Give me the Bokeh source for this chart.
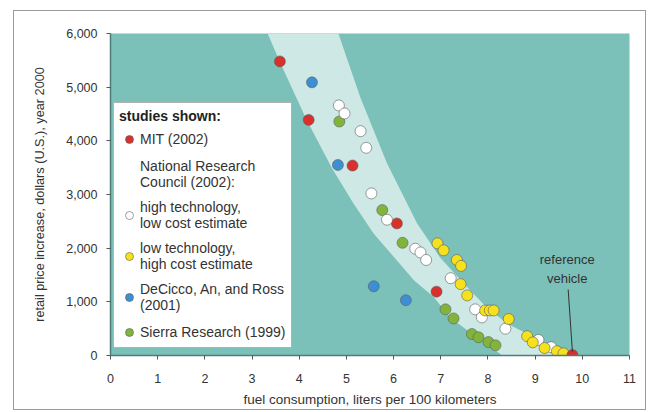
from bokeh.plotting import figure
from bokeh.models import Legend, LegendItem, Label, NumeralTickFormatter, FixedTicker
from bokeh.embed import file_html
from bokeh.resources import INLINE

# ---- data ----
mit_x = [3.59, 4.20, 5.13, 6.07, 6.91]
mit_y = [5480, 4390, 3540, 2460, 1190]

nrc_high_x = [4.84, 4.96, 5.30, 5.42, 5.53, 5.86, 6.46, 6.57, 6.69, 7.21, 7.73, 7.87, 8.37, 9.07, 9.34]
nrc_high_y = [4660, 4510, 4180, 3870, 3020, 2530, 1990, 1920, 1780, 1440, 860, 710, 500, 290, 155]

nrc_low_x = [6.93, 7.06, 7.34, 7.43, 7.42, 7.56, 7.94, 8.04, 8.12, 8.44, 8.83, 8.95, 9.20, 9.46, 9.60]
nrc_low_y = [2090, 1960, 1780, 1670, 1330, 1120, 840, 840, 840, 680, 360, 245, 140, 80, 40]

dec_x = [4.27, 4.82, 5.58, 6.26]
dec_y = [5090, 3550, 1290, 1030]

sierra_x = [4.85, 5.76, 6.19, 7.10, 7.27, 7.66, 7.80, 8.01, 8.16]
sierra_y = [4360, 2710, 2100, 860, 690, 400, 340, 250, 190]

ref_x = [9.79]
ref_y = [10]

band_lower_x = [3.33, 3.60, 4.15, 4.70, 5.15, 5.58, 6.07, 6.43, 6.85, 7.20, 7.56, 7.98, 8.30]
band_lower_y = [6000, 5450, 4400, 3480, 2830, 2270, 1770, 1400, 1090, 710, 470, 220, 0]
band_upper_x = [4.83, 5.30, 5.86, 6.50, 6.99, 7.56, 7.98, 8.40, 9.11, 9.68, 9.82]
band_upper_y = [6000, 4800, 3580, 2460, 1820, 1270, 890, 600, 280, 60, 0]

y_ticks = [0, 1000, 2000, 3000, 4000, 5000, 6000]
x_ticks = list(range(0, 12))

FONT = "Liberation Sans"
TEAL = "#7bc0b9"
BAND = "#cde8e5"

p = figure(width=633, height=400, x_range=(0, 11), y_range=(0, 6000),
           output_backend="svg", toolbar_location=None,
           min_border_left=96, min_border_right=18, min_border_top=22, min_border_bottom=56,
           margin=(10, 0, 0, 13))
p.styles = {"border": "1px solid #9a9a9a"}
p.background_fill_color = TEAL
p.border_fill_color = "white"
p.outline_line_color = None
p.xgrid.visible = False
p.ygrid.visible = False

# band
p.patch(band_lower_x + band_upper_x[::-1], band_lower_y + band_upper_y[::-1],
        fill_color=BAND, line_color=None)

kw = dict(size=11, line_color="#5f5f5f", line_alpha=0.6, line_width=1)
r_mit = p.scatter(mit_x, mit_y, fill_color="#d9302b", **kw)
r_dec = p.scatter(dec_x, dec_y, fill_color="#3b8fd2", **kw)
r_sierra = p.scatter(sierra_x, sierra_y, fill_color="#80b43c", **kw)
r_high = p.scatter(nrc_high_x, nrc_high_y, fill_color="white", **kw)
r_low = p.scatter(nrc_low_x, nrc_low_y, fill_color="#f6e11c", **kw)
p.scatter(ref_x, ref_y, fill_color="#d9302b", **kw)
r_dummy = p.scatter([], [], fill_alpha=0, line_alpha=0)

# reference vehicle annotation
p.segment(x0=[ref_x[0] - 0.09], y0=[1230], x1=ref_x, y1=[ref_y[0] + 60],
          line_color="#333333", line_width=1)
p.add_layout(Label(x=9.68, y=1290, text="reference\nvehicle", text_align="center",
                   text_baseline="bottom", text_font=FONT, text_font_size="13px",
                   text_color="#333333", text_line_height=1.3))

legend = Legend(items=[
    LegendItem(label="MIT (2002)", renderers=[r_mit]),
    LegendItem(label="National Research\nCouncil (2002):", renderers=[r_dummy]),
    LegendItem(label="high technology,\nlow cost estimate", renderers=[r_high]),
    LegendItem(label="low technology,\nhigh cost estimate", renderers=[r_low]),
    LegendItem(label="DeCicco, An, and Ross\n(2001)", renderers=[r_dec]),
    LegendItem(label="Sierra Research (1999)", renderers=[r_sierra]),
], location=(3, 7), title="studies shown:")
legend.title_text_font = FONT
legend.title_text_font_style = "bold"
legend.title_text_font_size = "14px"
legend.title_text_color = "#222222"
legend.title_standoff = 5
legend.label_text_font = FONT
legend.label_text_font_size = "14px"
legend.label_text_color = "#333333"
legend.label_text_line_height = 1.3
legend.label_height = 18
legend.border_line_color = "#666666"
legend.border_line_width = 1.5
legend.background_fill_alpha = 1
legend.padding = 5
legend.spacing = 9
legend.glyph_width = 20
legend.glyph_height = 20
legend.label_standoff = 1
legend.margin = 0
p.add_layout(legend)

# axes
p.yaxis.ticker = FixedTicker(ticks=y_ticks)
p.xaxis.ticker = FixedTicker(ticks=x_ticks)
p.yaxis.formatter = NumeralTickFormatter(format="0,0")
p.xaxis.axis_label = "fuel consumption, liters per 100 kilometers"
p.yaxis.axis_label = "retail price increase, dollars (U.S.), year 2000"
for ax in (p.xaxis, p.yaxis):
    ax.axis_label_text_font = FONT
    ax.axis_label_text_font_style = "normal"
    ax.axis_label_text_color = "#333333"
    ax.major_label_text_font = FONT
    ax.major_label_text_font_size = "12.5px"
    ax.major_label_text_color = "#333333"
    ax.minor_tick_line_color = None
    ax.major_tick_in = 0
    ax.major_tick_out = 4
    ax.major_tick_line_color = "#555555"
    ax.axis_line_color = "#4d7d78"
    ax.axis_line_width = 1.5
p.xaxis.axis_label_text_font_size = "13.5px"
p.yaxis.axis_label_text_font_size = "12.7px"
p.yaxis.major_label_standoff = 9
p.xaxis.major_label_standoff = 14
p.xaxis.axis_label_standoff = 6
p.yaxis.axis_label_standoff = 16

open("out.html", "w").write(file_html(p, INLINE))
